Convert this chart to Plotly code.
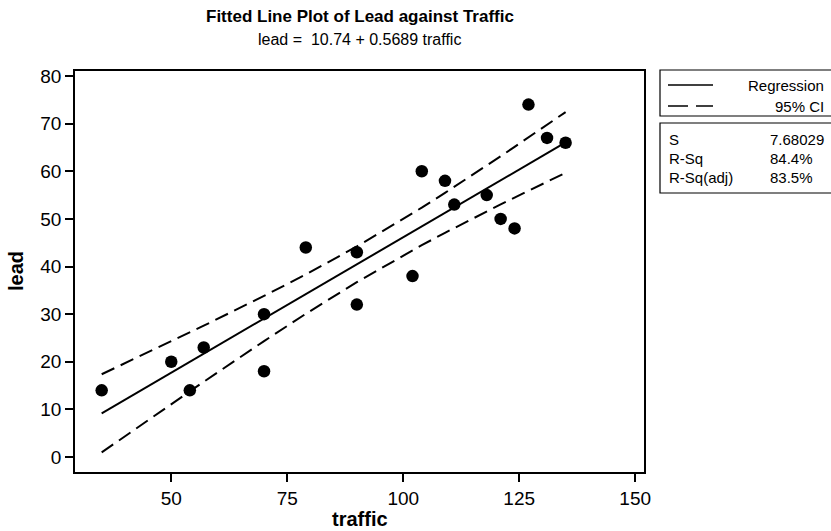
import numpy as np
import plotly.graph_objects as go

# Observations
traffic = [35, 50, 54, 57, 70, 70, 79, 90, 90, 102, 104, 109, 111, 118, 121, 124, 127, 131, 135]
lead = [14, 20, 14, 23, 30, 18, 44, 43, 32, 38, 60, 58, 53, 55, 50, 48, 74, 67, 66]

# Fit summary
intercept = -10.74
slope = 0.5689
s_value = 7.68029
r_sq = "84.4%"
r_sq_adj = "83.5%"
t_crit = 2.10982  # t(0.975, df = n - 2 = 17)

x_ticks = [50, 75, 100, 125, 150]
y_ticks = [0, 10, 20, 30, 40, 50, 60, 70, 80]

x = np.array(traffic, dtype=float)
n = len(x)
xbar = x.mean()
sxx = ((x - xbar) ** 2).sum()
xs = np.unique(x)
fit = intercept + slope * xs
half = t_crit * s_value * np.sqrt(1.0 / n + (xs - xbar) ** 2 / sxx)

W, H = 831, 531
L, R, T, B = 75, 187, 71, 59
pw, ph = W - L - R, H - T - B


def px(xp):
    return (xp - L) / pw


def py(yp):
    return (H - B - yp) / ph


FONT = "Liberation Sans, Arial, sans-serif"

fig = go.Figure()
fig.add_trace(go.Scatter(x=traffic, y=lead, mode="markers",
                         marker=dict(size=12.5, color="black"), showlegend=False))
fig.add_trace(go.Scatter(x=xs, y=fit, mode="lines",
                         line=dict(color="black", width=2), showlegend=False))
fig.add_trace(go.Scatter(x=xs, y=fit + half, mode="lines",
                         line=dict(color="black", width=2, dash="14px,7px"), showlegend=False))
fig.add_trace(go.Scatter(x=xs, y=fit - half, mode="lines",
                         line=dict(color="black", width=2, dash="14px,7px"), showlegend=False))

axis_common = dict(showline=True, mirror=True, linecolor="black", linewidth=1.5,
                   ticks="outside", ticklen=8, tickwidth=1.5, tickcolor="black",
                   showgrid=False, zeroline=False,
                   tickfont=dict(family=FONT, size=19, color="black"))

fig.update_xaxes(range=[29.25, 151.9], tickvals=x_ticks, **axis_common)
fig.update_yaxes(range=[-3.15, 81.06], tickvals=y_ticks, **axis_common)

shapes = []
# key box and stats box
shapes.append(dict(type="rect", xref="paper", yref="paper",
                   x0=px(660), x1=px(840), y0=py(116), y1=py(70),
                   line=dict(color="black", width=1.2), fillcolor="white"))
shapes.append(dict(type="rect", xref="paper", yref="paper",
                   x0=px(660), x1=px(840), y0=py(193), y1=py(123),
                   line=dict(color="black", width=1.2), fillcolor="white"))
shapes.append(dict(type="line", xref="paper", yref="paper",
                   x0=px(668), x1=px(713), y0=py(85), y1=py(85),
                   line=dict(color="black", width=1.5)))
shapes.append(dict(type="line", xref="paper", yref="paper",
                   x0=px(668), x1=px(713), y0=py(106), y1=py(106),
                   line=dict(color="black", width=1.5, dash="20px,8px")))

ann = []
ann.append(dict(text="<b>Fitted Line Plot of Lead against Traffic</b>", xref="paper", yref="paper",
                x=px(359.5), y=py(17), xanchor="center", yanchor="middle", showarrow=False,
                font=dict(family=FONT, size=17, color="black")))
ann.append(dict(text="lead =  10.74 + 0.5689 traffic", xref="paper", yref="paper",
                x=px(359.5), y=py(39), xanchor="center", yanchor="middle", showarrow=False,
                font=dict(family=FONT, size=16, color="black")))
# axis titles
ann.append(dict(text="<b>traffic</b>", xref="paper", yref="paper",
                x=px(359.5), y=py(519), xanchor="center", yanchor="middle", showarrow=False,
                font=dict(family=FONT, size=20, color="black")))
ann.append(dict(text="<b>lead</b>", xref="paper", yref="paper", textangle=-90,
                x=px(16), y=py(271), xanchor="center", yanchor="middle", showarrow=False,
                font=dict(family=FONT, size=20, color="black")))

for txt, yy in [("Regression", 85), ("95% CI", 106)]:
    ann.append(dict(text=txt, xref="paper", yref="paper", x=px(826), y=py(yy),
                    xanchor="right", yanchor="middle", showarrow=False,
                    font=dict(family=FONT, size=15, color="black")))
stats_rows = [("S", f"{s_value}", 139), ("R-Sq", r_sq, 158), ("R-Sq(adj)", r_sq_adj, 177)]
for name, val, yy in stats_rows:
    ann.append(dict(text=name, xref="paper", yref="paper", x=px(667), y=py(yy),
                    xanchor="left", yanchor="middle", showarrow=False,
                    font=dict(family=FONT, size=15, color="black")))
    ann.append(dict(text=val, xref="paper", yref="paper", x=px(768), y=py(yy),
                    xanchor="left", yanchor="middle", showarrow=False,
                    font=dict(family=FONT, size=15, color="black")))

fig.update_layout(width=W, height=H, margin=dict(l=L, r=R, t=T, b=B),
                  plot_bgcolor="white", paper_bgcolor="white",
                  shapes=shapes, annotations=ann, showlegend=False)

fig.write_html("out.html")
